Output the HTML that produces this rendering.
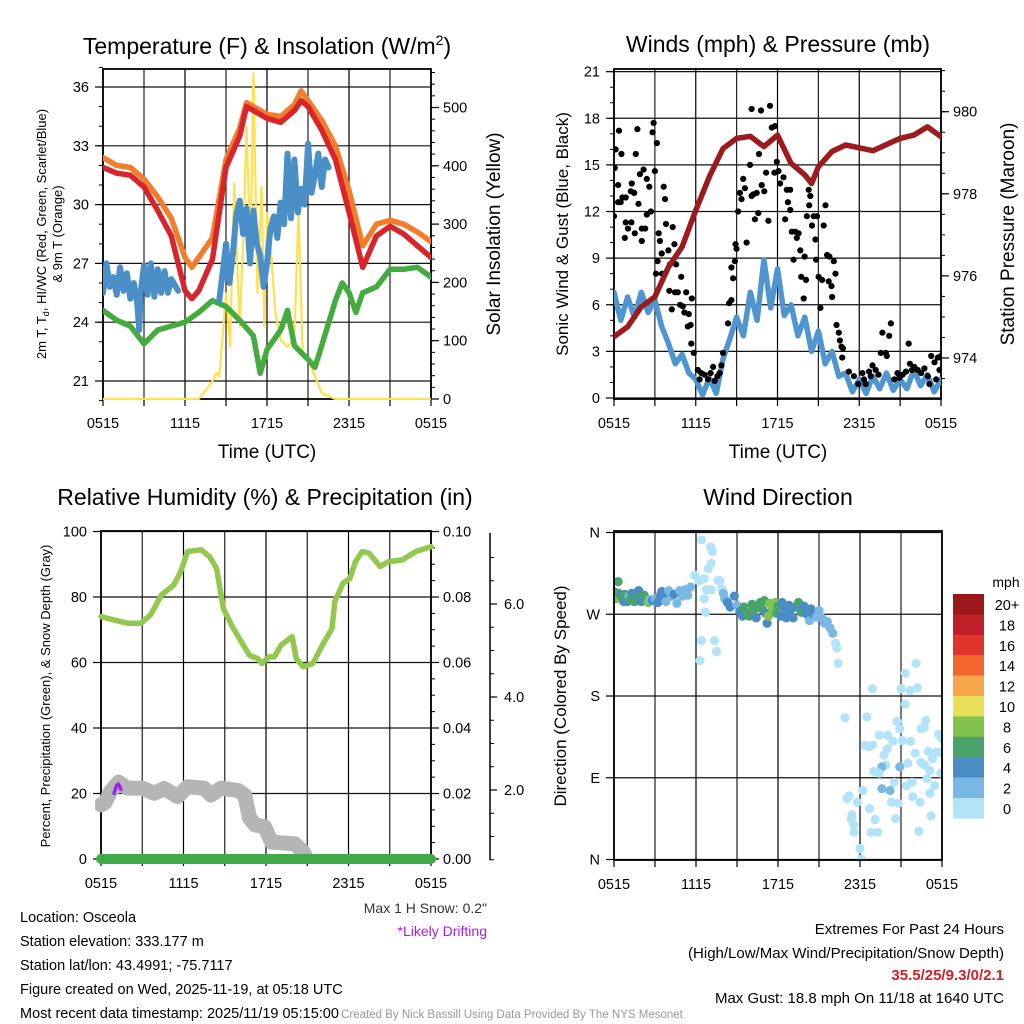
<!DOCTYPE html>
<html><head><meta charset="utf-8"><style>
html,body{margin:0;padding:0;background:#fff;}
svg{display:block;font-family:"Liberation Sans",Arial,sans-serif;}
</style></head><body>
<svg id="chart" width="1024" height="1024" viewBox="0 0 1024 1024" xmlns="http://www.w3.org/2000/svg">
<defs>
<clipPath id="c1"><rect x="103" y="69" width="328" height="331"/></clipPath>
<clipPath id="c2"><rect x="614" y="69" width="327" height="331"/></clipPath>
<clipPath id="c3"><rect x="95" y="531" width="342" height="335"/></clipPath>
<clipPath id="c4"><rect x="614" y="531" width="328" height="330"/></clipPath>
</defs>
<rect x="0" y="0" width="1024" height="1024" fill="#fff"/>
<g id="layer"></g>
<text x="267" y="54" font-size="23" text-anchor="middle">Temperature (F) &amp; Insolation (W/m<tspan font-size="14" dy="-9">2</tspan><tspan dy="9">)</tspan></text>
<text x="778" y="52" font-size="23" text-anchor="middle">Winds (mph) &amp; Pressure (mb)</text>
<text x="265" y="505" font-size="23" text-anchor="middle">Relative Humidity (%) &amp; Precipitation (in)</text>
<text x="778" y="505" font-size="23" text-anchor="middle">Wind Direction</text>
<text x="267" y="458" font-size="19" text-anchor="middle">Time (UTC)</text>
<text x="778" y="458" font-size="19" text-anchor="middle">Time (UTC)</text>
<text transform="translate(46,234) rotate(-90)" font-size="13" text-anchor="middle">2m T, T<tspan font-size="9" dy="3">d</tspan><tspan dy="-3">, HI/WC (Red, Green, Scarlet/Blue)</tspan></text>
<text transform="translate(62,234) rotate(-90)" font-size="13" text-anchor="middle">&amp; 9m T (Orange)</text>
<text transform="translate(500,234) rotate(-90)" font-size="19" text-anchor="middle">Solar Insolation (Yellow)</text>
<text transform="translate(568,234) rotate(-90)" font-size="17" text-anchor="middle">Sonic Wind &amp; Gust (Blue, Black)</text>
<text transform="translate(1014,234) rotate(-90)" font-size="19" text-anchor="middle">Station Pressure (Maroon)</text>
<text transform="translate(50,696) rotate(-90)" font-size="13" text-anchor="middle">Percent, Precipitation (Green), &amp; Snow Depth (Gray)</text>
<text transform="translate(566,696) rotate(-90)" font-size="17" text-anchor="middle">Direction (Colored By Speed)</text>
<text x="487" y="913" font-size="14" text-anchor="end" fill="#333">Max 1 H Snow: 0.2"</text>
<text x="487" y="936" font-size="14" text-anchor="end" fill="#a020f0">*Likely Drifting</text>
<g font-size="14.5">
<text x="20" y="922">Location: Osceola</text>
<text x="20" y="946">Station elevation: 333.177 m</text>
<text x="20" y="970">Station lat/lon: 43.4991; -75.7117</text>
<text x="20" y="994">Figure created on Wed, 2025-11-19, at 05:18 UTC</text>
<text x="20" y="1018">Most recent data timestamp: 2025/11/19 05:15:00</text>
</g>
<g font-size="15" text-anchor="end">
<text x="1004" y="934">Extremes For Past 24 Hours</text>
<text x="1004" y="958">(High/Low/Max Wind/Precipitation/Snow Depth)</text>
<text x="1004" y="980" fill="#d22027" font-weight="bold">35.5/25/9.3/0/2.1</text>
<text x="1004" y="1003">Max Gust: 18.8 mph On 11/18 at 1640 UTC</text>
</g>
<text x="512" y="1018" font-size="11.5" text-anchor="middle" fill="#999">Created By Nick Bassill Using Data Provided By The NYS Mesonet</text>
<text x="1006" y="587" font-size="14" text-anchor="middle">mph</text>
</svg>
<script>
// ---------- DATA ----------
const xTickLabels = ["0515","1115","1715","2315","0515"];
const tempTicks = [21,24,27,30,33,36];
const solarTicks = [0,100,200,300,400,500];
const windTicks = [0,3,6,9,12,15,18,21];
const presTicks = [974,976,978,980];
const rhTicks = [0,20,40,60,80,100];
const precipTicks = [0.00,0.02,0.04,0.06,0.08,0.10];
const snowTicks = [2.0,4.0,6.0];
const dirTicks = ["N","E","S","W","N"];
const dirTickDeg = [0,90,180,270,360];

const tempHours = [0,1,2,3,4,5,6,6.5,7,8,9,10,10.5,11,12,13,14,14.5,15,16,17,18,19,20,21,22,23,24];
const tempRed = [31.9,31.6,31.5,30.9,29.7,28.4,25.6,25.2,25.6,27.2,31.9,33.5,35.0,34.8,34.4,34.2,34.8,35.3,35.0,33.8,32.3,29.6,26.8,28.4,28.9,28.5,27.9,27.3];
const tempOrange = [32.4,32.0,31.9,31.3,30.4,29.3,27.3,26.8,27.3,28.3,32.3,33.9,35.2,35.0,34.6,34.5,35.1,35.8,35.3,34.3,33.0,30.7,27.9,29.0,29.2,29.0,28.6,28.1];
const dewHours = [0,1,2,3,4,5,6,7,8,9,10,11,11.5,12,13,13.5,14,15,15.5,16,17,17.5,18,18.5,19,20,21,22,23,24];
const dewGreen = [24.6,24.1,23.8,22.9,23.6,23.8,24.0,24.5,25.1,24.8,24.1,23.3,21.4,22.6,23.6,24.6,22.8,22.1,21.7,22.8,25.1,26.0,25.5,24.5,25.5,25.8,26.7,26.7,26.8,26.3];
const wcHoursA = [0,0.25,0.5,0.75,1,1.25,1.5,1.75,2,2.25,2.5,2.65,2.75,3,3.25,3.5,3.75,4,4.25,4.5,4.75,5,5.5];
const wcBlueA = [25.5,27.0,25.8,26.3,25.4,26.8,25.6,26.5,25.2,26.0,25.0,23.6,25.5,26.9,25.4,27.0,25.3,26.7,25.5,26.6,25.5,26.2,25.6];
const wcHoursB = [8.5,8.75,9,9.25,9.5,9.75,10,10.25,10.5,10.75,11,11.25,11.5,11.75,12,12.25,12.5,12.75,13,13.25,13.5,13.75,14,14.25,14.5,14.75,15,15.25,15.5,15.75,16,16.25,16.5];
const wcBlueB = [25.1,26.5,28.0,26.0,27.5,29.5,30.2,28.5,29.8,27.0,29.7,28.0,27.4,25.8,27.0,28.8,29.4,28.3,30.1,29.0,32.6,29.3,32.3,29.6,30.8,30.0,33.1,30.6,31.5,32.6,30.9,32.3,31.9];
const solarHours = [0,7,7.5,8,8.3,8.5,8.8,9,9.3,9.6,10,10.3,10.5,10.8,11,11.3,11.6,11.8,12,12.3,12.6,13,13.5,14,14.3,14.6,15,15.5,16,17,24];
const solarWm2 = [0,0,15,30,45,38,120,181,90,370,124,300,467,250,559,182,364,124,319,250,150,101,89,106,324,80,67,40,10,0,0];

const windHours = [0,0.5,1,1.5,2,2.5,3,3.5,4,4.5,5,5.5,6,6.5,7,7.5,8,8.5,9,9.5,10,10.5,11,11.5,12,12.5,13,13.5,14,14.5,15,15.5,16,16.5,17,17.5,18,18.5,19,19.5,20,20.5,21,21.5,22,22.5,23,23.5,24];
const windMph = [6.8,5.0,6.5,5.2,6.8,5.5,6.3,4.6,3.5,2.2,2.8,1.6,1.2,0.2,1.3,0.3,2.5,3.8,5.2,4.0,6.8,5.0,8.9,5.8,8.3,5.3,6.0,4.0,5.2,3.0,4.3,2.2,3.0,1.4,1.6,0.4,1.2,0.3,1.4,0.6,1.6,0.5,1.2,0.6,1.8,0.8,1.5,0.4,1.2];
const presHours = [0,1,2,3,4,5,6,7,8,9,10,11,12,13,14,14.5,15,16,17,18,19,20,21,22,23,24];
const presMb = [974.52,974.76,975.25,975.49,976.22,976.71,977.6,978.42,979.1,979.35,979.4,979.15,979.43,978.74,978.46,978.25,978.66,979.03,979.19,979.12,979.05,979.2,979.35,979.43,979.63,979.39];
const gustHours = [0,0.05,0.12,0.37,0.3,0.3,0.49,0.54,0.62,0.86,0.79,0.86,1.03,1.28,1.53,1.23,1.48,1.31,1.72,1.6,1.8,1.9,2.04,2.04,2.29,2.17,2.41,2.59,2.41,2.71,2.83,2.91,3.0,3.15,3.28,3.37,3.5,3.65,3.74,3.82,4.31,3.99,3.2,3.08,3.52,4.11,4.56,4.43,4.93,4.06,4.48,4.68,5.3,4.24,4.85,5.05,5.17,5.71,5.49,5.42,5.62,5.67,5.86,6.16,6.28,6.4,6.65,6.9,7.09,7.27,7.39,7.59,7.76,7.88,8.0,8.37,8.45,8.62,8.74,8.62,8.87,8.99,8.92,9.11,9.24,9.36,9.48,9.61,9.73,9.98,10.1,10.22,10.34,10.47,10.59,10.64,10.84,11.03,11.16,11.33,10.1,10.79,11.45,11.58,11.82,11.77,11.95,12.07,12.19,12.44,12.56,12.68,12.76,12.93,12.93,13.05,13.18,13.3,13.42,13.55,13.67,13.74,13.92,13.99,14.09,14.16,14.29,14.33,14.41,14.53,14.66,14.78,14.83,14.9,15.02,15.15,15.27,15.39,15.52,15.64,15.76,15.81,15.96,16.01,16.13,16.26,16.33,16.5,16.58,16.7,16.75,16.8,17.24,17.61,17.93,18.23,18.35,18.47,18.72,18.84,18.97,19.21,19.41,19.58,19.7,19.95,20.02,20.2,20.32,20.57,20.81,20.94,21.18,21.43,21.63,21.72,21.87,22.04,22.29,22.54,22.78,23.03,23.28,23.52,23.77,24.0,23.89,23.65,23.15];
const gustMph = [11.7,14.8,16.0,17.2,13.7,12.6,12.6,15.7,12.9,12.9,10.3,11.3,10.9,11.3,10.6,13.3,13.2,13.8,17.3,15.7,12.5,14.4,10.1,10.9,10.9,14.7,11.8,13.6,14.1,12.0,17.1,17.7,14.6,16.4,10.6,10.1,9.3,13.6,12.8,11.2,11.0,9.5,8.8,8.0,8.0,8.6,8.6,9.9,7.8,6.9,6.8,6.8,6.8,5.7,6.0,5.9,5.5,6.4,5.4,4.6,4.7,3.5,2.9,1.8,1.2,1.6,1.5,1.2,1.6,2.0,1.1,1.4,1.6,2.1,2.9,4.8,6.1,6.3,7.7,8.4,8.8,9.6,9.9,12.0,13.2,12.8,14.1,13.5,10.0,15.0,13.0,13.1,11.5,13.2,11.9,15.7,13.7,13.3,14.5,11.4,18.6,18.5,18.8,17.4,17.5,14.5,15.2,14.6,13.8,14.2,11.5,13.4,12.6,12.1,13.4,10.7,8.9,10.7,10.3,10.6,9.5,7.8,6.4,9.1,7.6,11.7,13.4,12.4,13.0,11.1,11.7,10.2,8.9,11.7,7.8,5.8,7.6,11.1,12.4,9.2,7.5,9.1,7.2,6.5,8.8,8.0,4.7,4.2,3.7,3.3,2.6,3.2,1.7,1.4,0.9,1.6,1.2,0.9,1.7,1.4,2.1,1.8,1.5,2.9,4.2,2.9,2.7,4.0,4.8,1.2,1.6,1.3,1.5,1.7,3.5,2.2,1.8,2.0,1.8,1.6,1.9,1.4,2.7,2.3,2.6,2.7,1.8,1.2,0.9];

const rhHours = [0,0.93,1.9,2.9,3.6,4.4,5.3,5.8,6.3,7.3,7.9,8.4,8.9,9.5,10.2,10.8,11.4,11.7,12.2,12.6,13.1,13.9,14.2,14.7,15.4,16.1,16.8,17.0,17.6,18.1,18.5,19.0,19.5,20.3,20.9,21.9,22.9,24.0];
const rhPct = [74,73,72,72,74.5,80.6,83.7,87.8,93.9,94.4,92.3,88.8,76.5,71.4,66.3,62.2,61.2,59.7,61.7,61.7,65.3,67.9,61.2,58.7,59.7,65.3,70.4,78.6,84.2,85.7,90.8,93.9,93.4,89.3,90.8,91.3,93.9,95.4];
const precipHours = [0,24];
const precipIn = [0,0];
const snowHours = [0,0.3,0.68,1.29,1.9,3.0,3.86,4.6,5.57,6.3,7.5,8.0,8.74,9.96,10.45,10.8,11.2,11.9,12.4,14.1,14.7,14.84];
const snowIn = [1.68,1.73,1.96,2.17,2.04,2.04,1.93,2.03,1.86,2.07,2.04,1.89,2.04,1.99,1.89,1.40,1.25,1.21,0.88,0.84,0.67,0.60];
const driftHours = [0.95,1.05,1.15,1.25,1.35,1.45];
const driftIn = [1.93,2.03,2.10,2.13,2.08,2.01];

const speedBins = ["0","2","4","6","8","10","12","14","16","18","20+"];
const binColors = ["#b3e3f8","#7ab8e4","#4a8dc6","#49a36b","#83c24d","#e9e05a","#f7a649","#f2652b","#e0352c","#c01f2a","#9a171b"];
const dirHours = [0,0.1,0.15,0.3,0.35,0.5,0.6,0.7,0.8,0.9,1.0,1.1,1.2,1.3,1.4,1.5,1.6,1.8,1.9,2.0,2.2,2.3,2.5,2.6,2.8,3.0,3.2,3.4,3.5,3.7,3.8,4.0,4.2,4.4,4.6,4.8,5.0,5.2,5.4,5.6,
5.9,6.4,7.07,7.2,7.1,6.9,6.6,6.2,6.75,7.1,7.6,7.75,7.9,6.6,6.7,6.4,7.36,7.5,6.3,8.0,8.1,
8.3,8.5,8.8,9.0,9.2,9.4,9.5,9.7,9.9,10.1,10.2,10.4,10.5,10.7,10.9,11.0,11.1,11.2,11.3,11.4,11.6,11.8,11.9,12.0,12.2,12.3,12.5,12.6,12.8,12.9,13.1,13.3,13.5,13.7,13.9,14.1,14.3,14.4,14.6,14.8,15.0,15.2,15.4,15.6,15.8,16.0,16.2,16.3,16.4,
16.9,18.5,18.9,17.05,17.2,17.8,17.4,17.55,17.35,17.55,18.0,18.1,18.2,18.36,18.65,18.9,19.0,18.7,19.1,18.8,19.3,19.4,20.0,19.75,20.0,20.4,19.9,19.6,19.4,20.5,19.6,20.2,20.3,20.8,20.6,20.7,20.9,21.0,21.3,22.1,21.65,22.2,21.3,22.8,22.45,22.7,21.1,21.7,22.04,21.5,20.9,22.45,22.7,23.1,23.0,23.3,23.55,23.75,24.0,23.9,22.9,21.8,21.4,21.85,22.4,23.1,23.45,23.2,22.3,23.8];
const dirDeg = [295,290,287,306,293,291,288,284,292,287,284,290,286,293,288,284,292,296,289,284,291,285,283,286,285,287,283,291,295,289,284,296,290,292,282,296,290,297,291,300,
313,352,344,339,326,320,309,307,297,297,307,307,298,287,272,241,241,229,219,293,287,
283,278,290,280,273,268,278,272,268,281,274,266,277,283,275,285,271,260,268,282,276,283,271,279,268,283,276,266,280,274,266,278,283,272,279,270,263,276,270,267,274,266,260,262,255,249,238,233,216,
156,157,188,67,70,63,49,38,45,30,12,0,76,126,124,126,97,56,44,30,30,137,137,115,122,130,104,102,95,85,78,76,63,62,45,152,144,188,205,216,186,189,171,153,144,145,131,130,117,106,102,107,104,98,119,111,118,138,133,95,89,85,81,69,63,73,81,48,31,118];
const dirSpeed = [6,4,8,6,6,4,6,4,6,6,4,2,6,4,6,6,4,4,6,4,6,6,8,2,4,2,4,4,4,4,2,2,2,4,2,2,2,2,2,2,
0,0,0,0,0,0,0,0,0,0,0,0,0,0,0,0,0,0,0,2,2,
4,4,4,2,4,4,6,6,6,6,6,4,6,6,6,6,4,4,8,8,8,8,6,6,4,4,4,4,4,4,4,4,6,6,4,4,2,4,4,2,2,2,2,2,2,2,0,0,0,
0,0,0,0,0,0,0,0,0,0,0,0,0,0,0,0,0,0,0,0,0,0,0,0,0,0,0,3,0,0,3,3,0,0,0,0,0,0,0,0,0,0,0,0,0,0,0,0,0,0,3,0,0,0,0,0,0,0,0,0,0,0,0,0,0,0,0,0,0,0,0];

// ---------- SCALES ----------
const hx1 = h => 103 + h*13.67, tempY = F => 87 + (36-F)*19.6, solarY = w => 399 - w*0.583;
const hx2 = h => 614 + h*13.625, windY = v => 398 - v*15.54, presY = p => 358 - (p-974)*41.05;
const hx3 = h => 101 + h*13.75, rhY = v => 859 - v*3.275, precipY = v => 859 - v*3275, snowY = s => 883 - s*46.5;
const hx4 = h => 614 + h*13.67, dirY = d => 859.5 - d*0.9083;

const NS = "http://www.w3.org/2000/svg";
const layer = document.getElementById("layer");
function mk(tag, attrs, parent){ const e=document.createElementNS(NS,tag); for(const k in attrs) e.setAttribute(k,attrs[k]); (parent||layer).appendChild(e); return e; }
function pathD(hs, vs, fx, fy){ return hs.map((h,i)=>(i?"L":"M")+fx(h).toFixed(1)+","+fy(vs[i]).toFixed(1)).join(""); }
function series(hs, vs, fx, fy, color, w, clip, name){
  const p = mk("path",{d:pathD(hs,vs,fx,fy),fill:"none",stroke:color,"stroke-width":w,"stroke-linejoin":"round","stroke-linecap":"round","clip-path":"url(#"+clip+")"});
  
  
  return p;
}
function panelFrame(L,T,R,B,name){
  const g = mk("g",{});
  
  
  return g;
}
function vgrid(g,L,R,T,B){
  for(let i=0;i<=8;i++){ const x=L+(R-L)*i/8; mk("line",{x1:x,x2:x,y1:T,y2:B,stroke:(i%2?"#222":"#000"),"stroke-width":1.2},g); }
}
function xTicks(g,L,R,B){
  for(let i=0;i<=8;i++){ const x=L+(R-L)*i/8; mk("line",{x1:x,x2:x,y1:B,y2:B+7,stroke:"#000","stroke-width":1.2},g); }
  xTickLabels.forEach((t,i)=>{ const x=L+(R-L)*i/4; const tx=mk("text",{x:x,y:B+29,"font-size":14.5,"text-anchor":"middle"},g); tx.textContent=t;
      });
}
function yTicksLeft(g,L,R,vals,fy,labels,grid,minorStep,lo,hi){
  if(minorStep){ for(let v=lo; v<=hi+1e-9; v+=minorStep){ const y=fy(v); mk("line",{x1:L-4,x2:L,y1:y,y2:y,stroke:"#000","stroke-width":1},g);} }
  vals.forEach((v,i)=>{ const y=fy(v);
    if(grid) mk("line",{x1:L,x2:R,y1:y,y2:y,stroke:"#111","stroke-width":1.2},g);
    mk("line",{x1:L-8,x2:L,y1:y,y2:y,stroke:"#000","stroke-width":1.2},g);
    const t=mk("text",{x:L-14,y:y+5,"font-size":14.5,"text-anchor":"end"},g); t.textContent=labels[i];
      });
}
function yTicksRight(g,R,vals,fy,labels,minorStep,lo,hi){
  if(minorStep){ for(let v=lo; v<=hi+1e-9; v+=minorStep){ const y=fy(v); mk("line",{x1:R,x2:R+4,y1:y,y2:y,stroke:"#000","stroke-width":1},g);} }
  vals.forEach((v,i)=>{ const y=fy(v);
    mk("line",{x1:R,x2:R+8,y1:y,y2:y,stroke:"#000","stroke-width":1.2},g);
    const t=mk("text",{x:R+12,y:y+5,"font-size":14.5},g); t.textContent=labels[i];
      });
}
function border(g,L,T,R,B){ mk("rect",{x:L,y:T,width:R-L,height:B-T,fill:"none",stroke:"#000","stroke-width":1.8},g); }

// ---------- PANEL 1 ----------
let g1 = panelFrame(103,69,431,399,'temperature-panel');
vgrid(g1,103,431,69,399);
yTicksLeft(g1,103,431,tempTicks,tempY,tempTicks.map(String),true,1,20,37);
yTicksRight(g1,431,solarTicks,solarY,solarTicks.map(String),20,0,560);
xTicks(g1,103,431,399);
series(solarHours,solarWm2,hx1,solarY,"#ffe04f",2.2,"c1",'solar-insolation-line');
series(dewHours,dewGreen,hx1,tempY,"#44ab3e",5.5,"c1",'dewpoint-line');
series(wcHoursA,wcBlueA,hx1,tempY,"#4a8fc7",6,"c1",'windchill-line-early');
series(wcHoursB,wcBlueB,hx1,tempY,"#4a8fc7",6,"c1",'windchill-line-late');
series(tempHours,tempOrange,hx1,tempY,"#f47d2c",5.5,"c1",'temp-9m-line');
series(tempHours,tempRed,hx1,tempY,"#d7252b",5.5,"c1",'temp-2m-line');
border(g1,103,69,431,399);

// ---------- PANEL 2 ----------
let g2 = panelFrame(614,69,941,399,'winds-panel');
vgrid(g2,614,941,69,399);
yTicksLeft(g2,614,941,windTicks,windY,windTicks.map(String),true,1,0,21);
yTicksRight(g2,941,presTicks,presY,presTicks.map(String),0.5,973.5,981);
xTicks(g2,614,941,399);
series(windHours,windMph,hx2,windY,"#4f95d0",5.5,"c2",'sonic-wind-line');
gustHours.forEach((h,i)=>{ const c=mk("circle",{cx:hx2(h).toFixed(1),cy:windY(gustMph[i]).toFixed(1),r:3.1,fill:"#000","clip-path":"url(#c2)"});
  
   });
series(presHours,presMb,hx2,presY,"#9c1b1f",5.5,"c2",'pressure-line');
border(g2,614,69,941,399);

// ---------- PANEL 3 ----------
let g3 = panelFrame(101,531,431,859,'humidity-panel');
vgrid(g3,101,431,531,859);
yTicksLeft(g3,101,431,rhTicks,rhY,rhTicks.map(String),true,0,0,0);
yTicksRight(g3,431,precipTicks,precipY,precipTicks.map(v=>v.toFixed(2)),0.005,0,0.1);
xTicks(g3,101,431,859);
series(rhHours,rhPct,hx3,rhY,"#93c84f",5.5,"c3",'humidity-line');
series(snowHours,snowIn,hx3,snowY,"#b5b5b5",15,"c3",'snow-depth-line');
series(driftHours,driftIn,hx3,snowY,"#a020f0",3.5,"c3",'drifting-snow-marks');
series(precipHours,precipIn,hx3,precipY,"#3faa47",10,"c3",'precipitation-line');
border(g3,101,531,431,859);
// snow axis
let gs = mk("g",{});


mk("line",{x1:490,x2:490,y1:533,y2:860,stroke:"#000","stroke-width":1.5},gs);
for(let s=0.5;s<=7.0;s+=0.5){ const y=snowY(s); if(y>533&&y<860) mk("line",{x1:490,x2:494,y1:y,y2:y,stroke:"#000","stroke-width":1},gs); }
snowTicks.forEach(s=>{ const y=snowY(s); mk("line",{x1:490,x2:497,y1:y,y2:y,stroke:"#000","stroke-width":1.2},gs);
  const t=mk("text",{x:504,y:y+5,"font-size":14.5},gs); t.textContent=s.toFixed(1);
    });

// ---------- PANEL 4 ----------
let g4 = panelFrame(614,531,942,860,'wind-direction-panel');
vgrid(g4,614,942,531,860);
yTicksLeft(g4,614,942,dirTickDeg,dirY,dirTicks,true,0,0,0);
xTicks(g4,614,942,860);
dirHours.forEach((h,i)=>{ const bin=Math.min(10,Math.floor(dirSpeed[i]/2));
  const c=mk("circle",{cx:hx4(h).toFixed(1),cy:dirY(dirDeg[i]).toFixed(1),r:4.6,fill:binColors[bin],"clip-path":"url(#c4)"},g4);
  
   });
border(g4,614,531,942,860);
// colorbar
let gc = mk("g",{});


speedBins.forEach((lab,i)=>{ const k=10-i; const y=594+i*20.4;
  const r=mk("rect",{x:953,y:y,width:31,height:20.6,fill:binColors[k]},gc);
  
  
  const t=mk("text",{x:1007,y:y+16,"font-size":14.5,"text-anchor":"middle"},gc); t.textContent=speedBins[k];
  
   });
</script>
</body></html>
